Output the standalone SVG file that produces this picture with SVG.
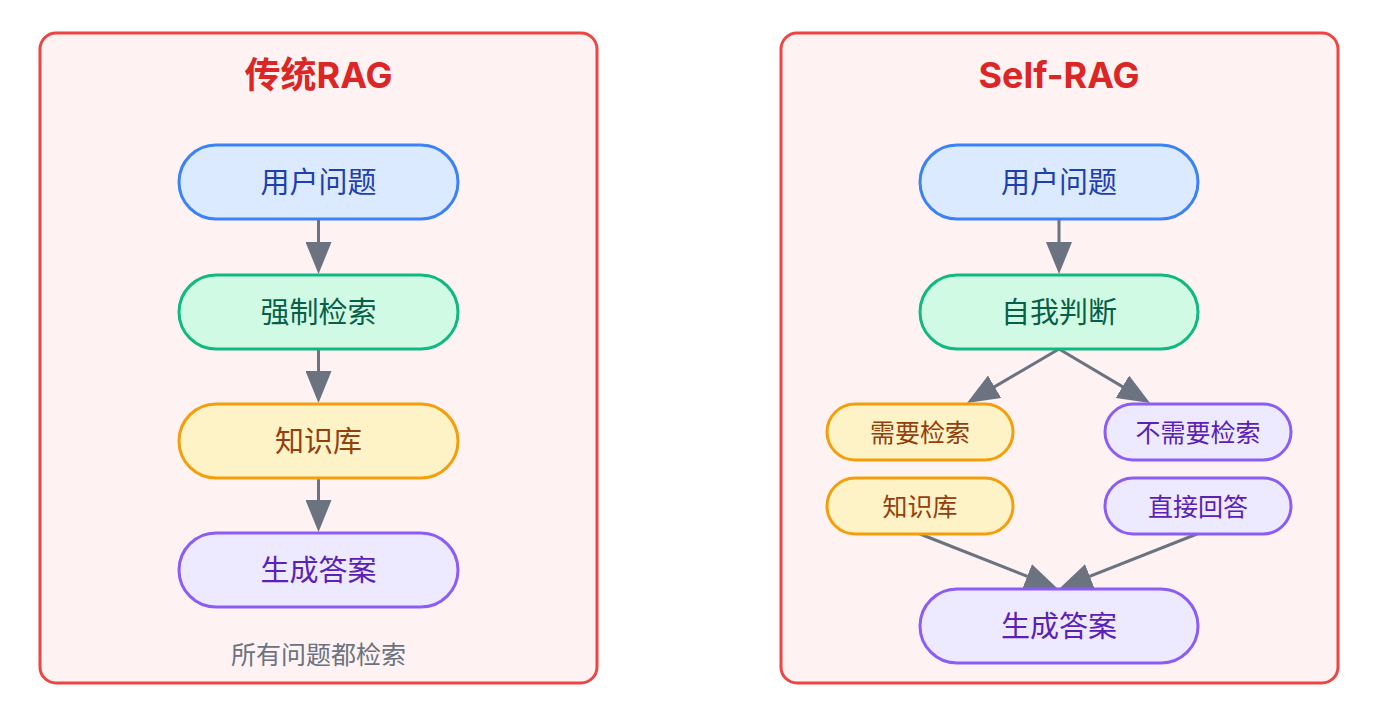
<svg xmlns="http://www.w3.org/2000/svg" width="1376" height="726" viewBox="0 0 1376 726">
<defs>
<style>
.panel{fill:#fef2f2;stroke:#ef4444;stroke-width:3}
.title{font-family:Inter,"Noto Sans CJK SC",sans-serif;font-weight:700;font-size:36px;fill:#dc2626;text-anchor:middle;dominant-baseline:central}
.t{font-family:"Noto Sans CJK SC",sans-serif;text-anchor:middle;dominant-baseline:central}
.big{font-size:29px}
.small{font-size:25px}
.blue rect{fill:#dbeafe;stroke:#3b82f6;stroke-width:3}
.blue text{fill:#1e40af}
.green rect{fill:#d1fae5;stroke:#10b981;stroke-width:3}
.green text{fill:#065f46}
.amber rect{fill:#fef3c7;stroke:#f59e0b;stroke-width:3}
.amber text{fill:#92400e}
.purple rect{fill:#ede9fe;stroke:#8b5cf6;stroke-width:3}
.purple text{fill:#5b21b6}
.note{font-size:25px;fill:#6b7280}
.edge{stroke:#6b7280;stroke-width:3;fill:none;marker-end:url(#ah)}
</style>
<marker id="ah" markerUnits="userSpaceOnUse" markerWidth="32" markerHeight="26" viewBox="0 0 32 26" refX="22" refY="13" orient="auto">
<path d="M0,0 L32,13 L0,26 z" fill="#6b7280"/>
</marker>
</defs>
<g id="panel-left">
<rect class="panel" x="40" y="33" width="557" height="650" rx="16"/>
<text class="title" x="318.5" y="75">传统RAG</text>
<text class="t note" x="318.5" y="653">所有问题都检索</text>
</g>
<g id="panel-right">
<rect class="panel" x="781" y="33" width="557" height="650" rx="16"/>
<text class="title" x="1059" y="75">Self-RAG</text>
</g>
<g id="connectors">
<line class="edge" x1="318.5" y1="219" x2="318.5" y2="264"/>
<line class="edge" x1="318.5" y1="349" x2="318.5" y2="393"/>
<line class="edge" x1="318.5" y1="478" x2="318.5" y2="522"/>
<line class="edge" x1="1059" y1="219" x2="1059" y2="264"/>
<line class="edge" x1="1059" y1="349" x2="975.6" y2="397.9"/>
<line class="edge" x1="1059" y1="349" x2="1141.4" y2="397.9"/>
<line class="edge" x1="920" y1="534" x2="1047.7" y2="584.3"/>
<line class="edge" x1="1197" y1="534" x2="1069.3" y2="584.3"/>
</g>
<g id="l-question" class="blue">
<rect x="179" y="145" width="279" height="74" rx="37"/>
<text class="t big" x="318.5" y="180">用户问题</text>
</g>
<g id="l-retrieve" class="green">
<rect x="179" y="275" width="279" height="74" rx="37"/>
<text class="t big" x="318.5" y="310">强制检索</text>
</g>
<g id="l-kb" class="amber">
<rect x="179" y="404" width="279" height="74" rx="37"/>
<text class="t big" x="318.5" y="439">知识库</text>
</g>
<g id="l-answer" class="purple">
<rect x="179" y="533" width="279" height="74" rx="37"/>
<text class="t big" x="318.5" y="568">生成答案</text>
</g>
<g id="r-question" class="blue">
<rect x="920" y="145" width="278" height="74" rx="37"/>
<text class="t big" x="1059" y="180">用户问题</text>
</g>
<g id="r-judge" class="green">
<rect x="920" y="275" width="278" height="74" rx="37"/>
<text class="t big" x="1059" y="310">自我判断</text>
</g>
<g id="r-need" class="amber">
<rect x="827" y="404" width="186" height="56" rx="28"/>
<text class="t small" x="920" y="431">需要检索</text>
</g>
<g id="r-noneed" class="purple">
<rect x="1105" y="404" width="186" height="56" rx="28"/>
<text class="t small" x="1198" y="431">不需要检索</text>
</g>
<g id="r-kb" class="amber">
<rect x="827" y="478" width="186" height="56" rx="28"/>
<text class="t small" x="920" y="505">知识库</text>
</g>
<g id="r-direct" class="purple">
<rect x="1105" y="478" width="186" height="56" rx="28"/>
<text class="t small" x="1198" y="505">直接回答</text>
</g>
<g id="r-answer" class="purple">
<rect x="920" y="589" width="278" height="74" rx="37"/>
<text class="t big" x="1059" y="624">生成答案</text>
</g>
</svg>
